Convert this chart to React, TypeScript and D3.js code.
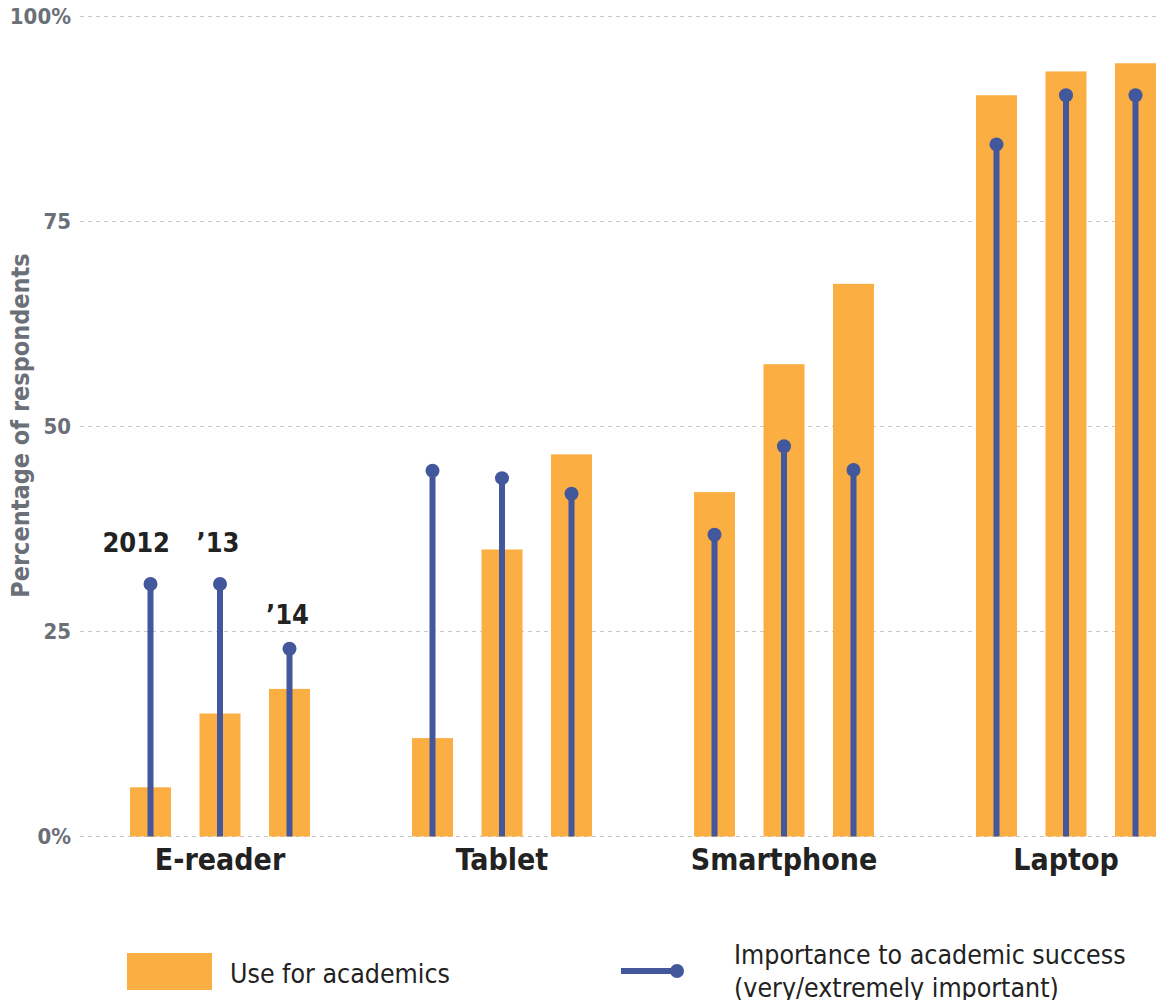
import React from "react";
import * as d3 from "d3";

const devices = ["E-reader", "Tablet", "Smartphone", "Laptop"];
const years = ["2012", "2013", "2014"];
const yearLabels = ["2012", "\u201913", "\u201914"];
// Use for academics (%), per device, per year
const useForAcademics = [
  [6, 15, 18],
  [12, 35, 46.6],
  [42, 57.6, 67.4],
  [90.4, 93.3, 94.3],
];
// Importance to academic success (very/extremely important, %)
const importance = [
  [30.8, 30.8, 22.9],
  [44.6, 43.7, 41.8],
  [36.8, 47.6, 44.7],
  [84.4, 90.4, 90.4],
];
const yTicks = [0, 25, 50, 75, 100];

const W = 1171;
const H = 1008;
const ORANGE = "#FBAE42";
const BLUE = "#43579C";
const GRAY = "#6b7078";
const DARK = "#222222";
const COND = "'DejaVu Sans Condensed', 'DejaVu Sans', sans-serif";
// vertical gap between each year label and its dot
const yearLabelGap = [32, 32, 25];

export default function App() {
  const y = d3.scaleLinear().domain([0, 100]).range([836.5, 16.5]);
  const groupX = d3.scalePoint().domain(devices).range([220, 1066]);
  const x1 = d3.scalePoint().domain(years).range([-69.5, 69.5]);
  const barW = 41;

  const tickLabel = (t: number) => (t === 0 || t === 100 ? `${t}%` : `${t}`);

  return (
    <svg width={W} height={H} style={{ display: "block", margin: "-8px" }}>
      <rect width={W} height={H} fill="#ffffff" />
      {/* grid */}
      {yTicks.map((t) => (
        <g key={t}>
          <line
            x1={80}
            x2={1160}
            y1={y(t)}
            y2={y(t)}
            stroke="#c9c9c9"
            strokeWidth={1.2}
            strokeDasharray="4,4"
          />
          <text
            x={71}
            y={y(t)}
            dy="0.36em"
            textAnchor="end"
            fontFamily={COND}
            fontWeight="bold"
            fontSize={22}
            fill={GRAY}
          >
            {tickLabel(t)}
          </text>
        </g>
      ))}
      <text
        transform={`translate(29,${y(50) - 1}) rotate(-90)`}
        textAnchor="middle"
        fontFamily={COND}
        fontWeight="bold"
        fontSize={25}
        fill={GRAY}
      >
        Percentage of respondents
      </text>

      {devices.map((d, di) => (
        <g key={d} transform={`translate(${groupX(d)},0)`}>
          {years.map((yr, yi) => {
            const cx = x1(yr)!;
            const v = useForAcademics[di][yi];
            return (
              <rect
                key={yr}
                x={cx - barW / 2}
                y={y(v)}
                width={barW}
                height={y(0) - y(v)}
                fill={ORANGE}
              />
            );
          })}
          {years.map((yr, yi) => {
            const cx = x1(yr)!;
            const v = importance[di][yi];
            return (
              <g key={yr}>
                <line x1={cx} x2={cx} y1={y(0)} y2={y(v)} stroke={BLUE} strokeWidth={6} />
                <circle cx={cx} cy={y(v)} r={7} fill={BLUE} />
              </g>
            );
          })}
          {di === 0 &&
            years.map((yr, yi) => (
              <text
                key={yr}
                x={x1(yr)! + barW / 2 - 1}
                y={y(importance[di][yi]) - yearLabelGap[yi]}
                textAnchor="end"
                fontFamily={COND}
                fontWeight="bold"
                fontSize={27}
                fill={DARK}
              >
                {yearLabels[yi]}
              </text>
            ))}
          <text
            x={0}
            y={870}
            textAnchor="middle"
            fontFamily={COND}
            fontWeight="bold"
            fontSize={30}
            fill={DARK}
          >
            {d}
          </text>
        </g>
      ))}

      {/* legend */}
      <rect x={127} y={953} width={85} height={37} fill={ORANGE} />
      <text x={230} y={983} fontFamily={COND} fontSize={26.5} fill={DARK}>
        Use for academics
      </text>
      <line x1={621} x2={677} y1={971} y2={971} stroke={BLUE} strokeWidth={6} />
      <circle cx={677} cy={971} r={7} fill={BLUE} />
      <text x={734} y={964} fontFamily={COND} fontSize={26.5} fill={DARK}>
        Importance to academic success
      </text>
      <text x={734} y={997} fontFamily={COND} fontSize={26.5} fill={DARK}>
        (very/extremely important)
      </text>
    </svg>
  );
}
